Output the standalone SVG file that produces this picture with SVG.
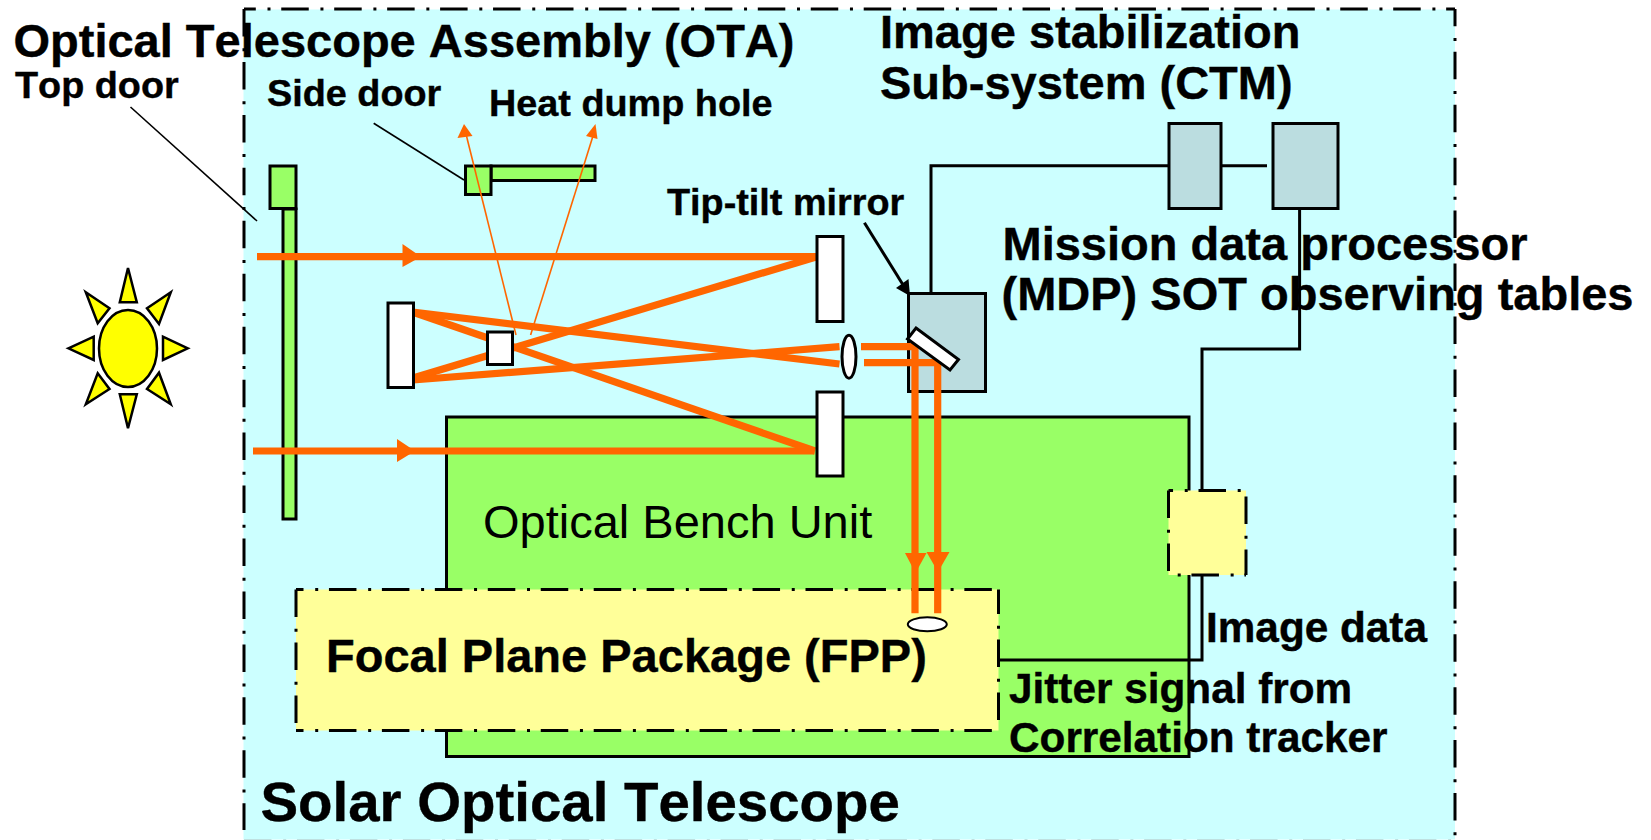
<svg xmlns="http://www.w3.org/2000/svg" width="1651" height="840" viewBox="0 0 1651 840">
<style>
text{font-family:"Liberation Sans",Arial,sans-serif;font-weight:700;fill:#000;font-kerning:none;stroke:#000;stroke-width:.4}
.xl{font-size:56.4px}.l{font-size:47px}.m{font-size:42.3px}.s{font-size:37.8px}
.k{stroke:#000;stroke-width:3;stroke-linecap:butt}
.n{fill:none;stroke:#000;stroke-width:3}
.dd{fill:none;stroke:#000;stroke-width:3;stroke-dasharray:27.5 11.7 3 10.75}
.w{fill:#fff;stroke:#000;stroke-width:3}
.g{fill:#99FF66;stroke:#000;stroke-width:3}
.b{fill:#BBDDE0;stroke:#000;stroke-width:3}
.y{fill:#FFFF00;stroke:#000;stroke-width:2.5}
.ob{fill:none;stroke:#FF6600;stroke-width:7.2}
.ot{fill:none;stroke:#FF6600;stroke-width:1.6}
.ah{fill:#FF6600}
</style>
<rect width="1651" height="840" fill="#fff"/>
<g id="sot-frame">
<rect x="243.5" y="9.5" width="1211.5" height="830" fill="#CCFFFF"/>
<line class="dd" x1="244" y1="9" x2="1455" y2="9" stroke-dashoffset="15.7"/>
<line class="dd" x1="244" y1="9" x2="244" y2="830"/>
<line class="dd" x1="1455" y1="9" x2="1455" y2="840" stroke-dashoffset="10.2"/>
<line x1="244" y1="839.5" x2="1455" y2="839.5" fill="none" stroke="#BFE0E0" stroke-width="1" stroke-dasharray="27.5 11.7 3 10.75"/>
</g>
<g id="optical-bench"><rect class="g" x="446.5" y="417" width="742.5" height="339.5"/></g>
<g id="fpp">
<rect x="296" y="589.5" width="702.5" height="141" fill="#FFFF99"/>
<line class="dd" x1="296" y1="589.5" x2="999" y2="589.5" stroke-dashoffset="20"/>
<line class="dd" x1="296" y1="730.5" x2="999" y2="730.5" stroke-dashoffset="20"/>
<line class="dd" x1="296" y1="589.5" x2="296" y2="731" stroke-dashoffset="0"/>
<line class="dd" x1="998.5" y1="589.5" x2="998.5" y2="731" stroke-dashoffset="3"/>
</g>
<g id="correlation-tracker">
<rect x="1168.5" y="490.5" width="77.5" height="84.5" fill="#FFFF99"/>
<line class="dd" x1="1168.5" y1="490.5" x2="1246" y2="490.5" stroke-dashoffset="-30"/>
<line class="dd" x1="1168.5" y1="575" x2="1246" y2="575" stroke-dashoffset="30"/>
<line class="dd" x1="1168.5" y1="490.5" x2="1168.5" y2="575"/>
<line class="dd" x1="1246" y1="490.5" x2="1246" y2="575" stroke-dashoffset="-6"/>
</g>
<g id="sun">
<ellipse class="y" cx="128" cy="348.5" rx="29" ry="38.5"/>
<polygon class="y" points="128,268 119.8,302.3 136.8,302.3"/>
<polygon class="y" points="128,428.3 119.8,394.3 136.8,394.3"/>
<polygon class="y" points="68.4,348.3 93.7,336.7 93.7,360"/>
<polygon class="y" points="187.8,348.3 163,336.7 163,360"/>
<polygon class="y" points="85.8,292.3 109.5,308.3 97.7,323.3"/>
<polygon class="y" points="170.8,292.3 147,308.3 159,324"/>
<polygon class="y" points="85.8,404.3 109.5,389 97.7,373.3"/>
<polygon class="y" points="170.8,404.3 147,389 159,372.7"/>
</g>
<g id="top-door">
<rect class="g" x="283" y="209" width="13" height="310"/>
<rect class="g" x="270" y="166" width="26" height="42.5"/>
</g>
<g id="side-door">
<rect class="g" x="491" y="166" width="104" height="14.5"/>
<rect class="g" x="465.5" y="166" width="25.5" height="28.5"/>
</g>
<g id="tip-tilt-box"><rect class="b" x="908.5" y="293.5" width="77" height="98"/></g>
<g id="ctm-box-1"><rect class="b" x="1169" y="123.5" width="52" height="85"/></g>
<g id="ctm-box-2"><rect class="b" x="1273" y="123.5" width="65" height="85"/></g>
<g id="connectors">
<line x1="130.5" y1="107" x2="257" y2="221" stroke="#000" stroke-width="1.6"/>
<line x1="373.7" y1="123.3" x2="464" y2="180" stroke="#000" stroke-width="1.6"/>
<polyline class="n" points="931,292 931,165.7 1168,165.7"/>
<line class="k" x1="1222" y1="165.7" x2="1267" y2="165.7"/>
<polyline class="n" points="1299.6,210 1299.6,349 1202,349 1202,490"/>
<polyline class="n" points="1202,575 1202,660 998,660"/>
<line x1="864.4" y1="222.7" x2="905" y2="288" stroke="#000" stroke-width="3"/>
<polygon fill="#000" points="910,296 896,288 908.5,279"/>
<g id="beams">
<line class="ob" x1="257" y1="256.7" x2="816.5" y2="256.7"/>
<polygon class="ah" points="402.5,244 421,256.7 402.5,267"/>
<line class="ob" x1="816" y1="257" x2="413" y2="378"/>
<line class="ob" x1="253" y1="451" x2="814.5" y2="451"/>
<polygon class="ah" points="397,439 415,451 397,462"/>
<line class="ob" x1="815" y1="451" x2="412.5" y2="312"/>
<line class="ob" x1="412.5" y1="312" x2="839.5" y2="364"/>
<line class="ob" x1="413" y1="380" x2="839.5" y2="346.7"/>
<polyline class="ob" points="861,346.7 915,346.7 915,613.3"/>
<polyline class="ob" points="864,362.7 937.7,362.7 937.7,613.3"/>
<polygon class="ah" points="905,553 926.5,553 915.5,573"/>
<polygon class="ah" points="926.5,552 949.5,552 938,572"/>
<line class="ot" x1="516" y1="335" x2="466.5" y2="136"/>
<polygon class="ah" points="464,124 457.5,138 472.5,136"/>
<line class="ot" x1="530.6" y1="335" x2="593" y2="136"/>
<polygon class="ah" points="595.5,124 586,136 597.5,139"/>
</g>
</g>
<g id="mirror-top"><rect class="w" x="817" y="236.5" width="26" height="85"/></g>
<g id="mirror-bottom"><rect class="w" x="817" y="392" width="26" height="84"/></g>
<g id="mirror-primary"><rect class="w" x="388" y="303" width="25.5" height="84.5"/></g>
<g id="mirror-secondary"><rect class="w" x="487.5" y="332" width="25" height="32.5"/></g>
<g id="lens"><ellipse class="w" cx="849" cy="356.7" rx="7" ry="21.5"/></g>
<g id="tip-tilt-mirror"><polygon class="w" points="916,328 958.5,359.5 950,370 907.5,339"/></g>
<g id="focal-spot"><ellipse class="w" cx="927.3" cy="624.3" rx="19.5" ry="7" style="stroke-width:2"/></g>
<g id="labels">
<text class="l" x="13.5" y="57">Optical Telescope Assembly (OTA)</text>
<text class="s" x="15" y="98">Top door</text>
<text class="s" x="267" y="106">Side door</text>
<text class="s" x="489" y="116">Heat dump hole</text>
<text class="l" x="880" y="48">Image stabilization</text>
<text class="l" x="880" y="99">Sub-system (CTM)</text>
<text class="s" x="667" y="215">Tip-tilt mirror</text>
<text class="l" x="1002.5" y="260">Mission data processor</text>
<text class="l" x="1001.5" y="310">(MDP) SOT observing tables</text>
<text class="l" x="483" y="538" style="font-weight:400;stroke:none">Optical Bench Unit</text>
<text class="l" x="326" y="672">Focal Plane Package (FPP)</text>
<text class="m" x="1206" y="642">Image data</text>
<text class="m" x="1009" y="703">Jitter signal from</text>
<text class="m" x="1009" y="752">Correlation tracker</text>
<text class="xl" x="260.5" y="821">Solar Optical Telescope</text>
</g>
</svg>
